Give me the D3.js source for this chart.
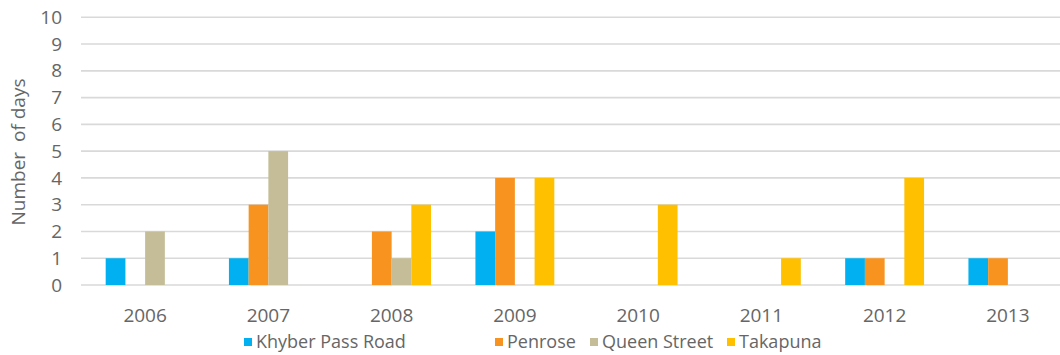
<!DOCTYPE html>
<html>
<head>
<meta charset="utf-8">
<script src="https://cdn.jsdelivr.net/npm/d3@7"></script>
<style>
  html, body { margin: 0; padding: 0; background: #fff; overflow: hidden; }
  svg { display: block; font-family: "Open Sans", "Noto Sans", sans-serif; }
</style>
</head>
<body>
<svg id="chart" width="1060" height="355"></svg>
<script>
// Number of exceedance days per monitoring site and year
const years = ["2006", "2007", "2008", "2009", "2010", "2011", "2012", "2013"];
const sites = ["Khyber Pass Road", "Penrose", "Queen Street", "Takapuna"];
const khyberPassRoad = [1, 1, 0, 2, 0, 0, 1, 1];
const penrose        = [0, 3, 2, 4, 0, 0, 1, 1];
const queenStreet    = [2, 5, 1, 0, 0, 0, 0, 0];
const takapuna       = [0, 0, 3, 4, 3, 1, 4, 0];
const yTicks = [0, 1, 2, 3, 4, 5, 6, 7, 8, 9, 10];
const yTitle = "Number  of days";

const seriesValues = [khyberPassRoad, penrose, queenStreet, takapuna];
const colors = ["#00B0F0", "#F7931E", "#C4BD97", "#FFC000"];

const svg = d3.select("#chart");

const x0 = d3.scaleBand().domain(years).range([83.5, 1069.5]).paddingInner(0.36).paddingOuter(0.18);
const x1 = d3.scaleBand().domain(sites).range([0, x0.bandwidth()]);
const y = d3.scaleLinear().domain([0, 10]).range([285, 17.3]);

// horizontal gridlines
svg.append("g")
  .selectAll("line")
  .data(yTicks)
  .join("line")
  .attr("x1", 81).attr("x2", 1072)
  .attr("y1", d => y(d)).attr("y2", d => y(d))
  .attr("stroke", "#d9d9d9")
  .attr("stroke-width", 1.6);

// y tick labels
svg.append("g")
  .selectAll("text")
  .data(yTicks)
  .join("text")
  .attr("x", 62)
  .attr("y", d => y(d))
  .attr("dy", "0.35em")
  .attr("text-anchor", "end")
  .attr("fill", "#666")
  .attr("font-size", 19)
  .text(d => d);

// y axis title
svg.append("text")
  .attr("transform", "translate(25,152) rotate(-90)")
  .attr("text-anchor", "middle")
  .attr("fill", "#666")
  .attr("font-size", 19)
  .attr("xml:space", "preserve")
  .style("white-space", "pre")
  .text(yTitle);

// bars
const groups = svg.append("g")
  .selectAll("g")
  .data(years)
  .join("g")
  .attr("transform", d => `translate(${x0(d)},0)`);

groups.selectAll("rect")
  .data((d, i) => sites.map((s, k) => ({ site: s, value: seriesValues[k][i], color: colors[k] })))
  .join("rect")
  .attr("x", d => x1(d.site))
  .attr("width", x1.bandwidth())
  .attr("y", d => y(d.value))
  .attr("height", d => y(0) - y(d.value))
  .attr("fill", d => d.color);

// x category labels
svg.append("g")
  .selectAll("text")
  .data(years)
  .join("text")
  .attr("x", d => x0(d) + x0.bandwidth() / 2)
  .attr("y", 315)
  .attr("dy", "0.35em")
  .attr("text-anchor", "middle")
  .attr("fill", "#666")
  .attr("font-size", 19)
  .text(d => d);

// legend
const legendX = [244, 495, 590, 727];
const legend = svg.append("g")
  .selectAll("g")
  .data(sites)
  .join("g")
  .attr("transform", (d, i) => `translate(${legendX[i]},342)`);

legend.append("rect")
  .attr("x", 0).attr("y", -4).attr("width", 8).attr("height", 8)
  .attr("fill", (d, i) => colors[i]);

legend.append("text")
  .attr("x", 12)
  .attr("dy", "0.35em")
  .attr("fill", "#666")
  .attr("font-size", 18)
  .text(d => d);
</script>
</body>
</html>
